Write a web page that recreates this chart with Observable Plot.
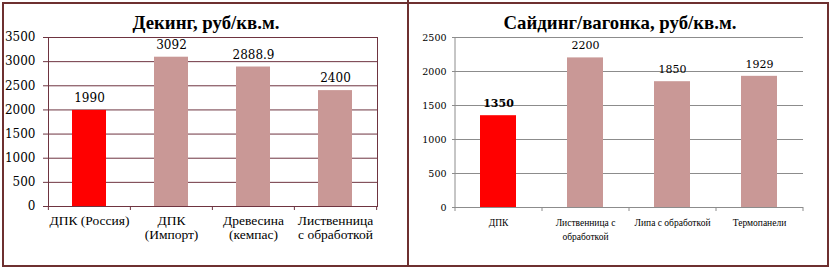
<!DOCTYPE html>
<html><head><meta charset="utf-8">
<script src="https://cdn.jsdelivr.net/npm/d3@7"></script>
<script src="https://cdn.jsdelivr.net/npm/@observablehq/plot@0.6"></script>
<style>
body{margin:0;background:#fff;}
#wrap{position:relative;width:833px;height:270px;overflow:hidden;background:#fff;}
.box{position:absolute;left:2px;top:2px;width:827px;height:265px;box-sizing:border-box;border:2px solid #6e3030;}
.div{position:absolute;left:407px;top:0;width:2px;height:267px;background:#6e3030;}
.title{position:absolute;width:400px;text-align:center;font-family:"Liberation Serif",serif;font-weight:bold;font-size:18.8px;color:#000;line-height:20px;}
.chart{position:absolute;top:0;}
#c1 g[aria-label="y-axis tick label"]{font-family:"DejaVu Serif",serif;font-size:12px;}
#c1 g[aria-label="x-axis tick label"]{font-family:"Liberation Serif",serif;font-size:13.5px;}
#c2 g[aria-label="y-axis tick label"]{font-family:"DejaVu Serif",serif;font-size:9.5px;}
#c2 g[aria-label="x-axis tick label"]{font-family:"Liberation Serif",serif;font-size:9.5px;}
</style>
</head><body>
<div id="wrap">
  <div class="box"></div>
  <div class="div"></div>
  <div class="title" id="t1" style="left:6px;top:13px;">Декинг, руб/кв.м.</div>
  <div class="title" id="t2" style="left:420px;top:13px;">Сайдинг/вагонка, руб/кв.м.</div>
  <div class="chart" id="c1" style="left:0px;"></div>
  <div class="chart" id="c2" style="left:408px;"></div>
</div>
<script>
// ---- Data ----
const deckCats = ["ДПК (Россия)", "ДПК\n(Импорт)", "Древесина\n(кемпас)", "Лиственница\nс обработкой"];
const deckValues = [1990, 3092, 2888.9, 2400];
const deckColors = ["#ff0000", "#c99896", "#c99896", "#c99896"];
const deckTicks = [0, 500, 1000, 1500, 2000, 2500, 3000, 3500];

const sidingCats = ["ДПК", "Лиственница с\nобработкой", "Липа с обработкой", "Термопанели"];
const sidingValues = [1350, 2200, 1850, 1929];
const sidingColors = ["#ff0000", "#c99896", "#c99896", "#c99896"];
const sidingTicks = [0, 500, 1000, 1500, 2000, 2500];

const deck = deckCats.map((c, i) => ({cat: c, value: deckValues[i], color: deckColors[i], label: String(deckValues[i])}));
const siding = sidingCats.map((c, i) => ({cat: c, value: sidingValues[i], color: sidingColors[i], label: String(sidingValues[i])}));

const brown = "#6e3440";
const gray = "#8c8c8c";
const numFont = "DejaVu Serif";
const fmt = d => String(d);

// ---- Left chart ----
{
  const W = 408, H = 266, mL = 48, mR = 31, mT = 37, mB = 60;
  const step = (W - mL - mR) / deckCats.length;
  const p = 0.585;
  const plot = Plot.plot({
    width: W, height: H,
    marginLeft: mL, marginRight: mR, marginTop: mT, marginBottom: mB,
    style: {background: "transparent", color: "#000", overflow: "visible"},
    x: {domain: deckCats, paddingInner: p, paddingOuter: p / 2, label: null},
    y: {domain: [0, 3500], label: null},
    color: {type: "identity"},
    marks: [
      Plot.gridY(deckTicks, {stroke: brown, strokeOpacity: 1, strokeWidth: 1}),
      Plot.barY(deck, {x: "cat", y: "value", fill: "color"}),
      Plot.frame({stroke: brown, strokeWidth: 1}),
      Plot.ruleX(deck, {x: "cat", y1: 0, y2: 0, dx: -step / 2, insetBottom: -4, stroke: brown}),
      Plot.ruleX(deck.slice(-1), {x: "cat", y1: 0, y2: 0, dx: step / 2, insetBottom: -4, stroke: brown}),
      Plot.axisY(deckTicks, {tickSize: 5, tickPadding: 8, stroke: brown, tickFormat: fmt, label: null}),
      Plot.axisX({tickSize: 0, tickPadding: 9, lineHeight: 1.0, label: null}),
      Plot.text(deck, {x: "cat", y: "value", text: "label", dy: -12, fontFamily: numFont, fontSize: 12})
    ]
  });
  document.getElementById("c1").appendChild(plot);
}

// ---- Right chart ----
{
  const W = 420, H = 266, mL = 47, mR = 25, mT = 37, mB = 59;
  const step = (W - mL - mR) / sidingCats.length;
  const p = 0.586;
  const plot = Plot.plot({
    width: W, height: H,
    marginLeft: mL, marginRight: mR, marginTop: mT, marginBottom: mB,
    style: {background: "transparent", color: "#000", overflow: "visible"},
    x: {domain: sidingCats, paddingInner: p, paddingOuter: p / 2, label: null},
    y: {domain: [0, 2500], label: null},
    color: {type: "identity"},
    marks: [
      Plot.gridY(sidingTicks, {stroke: gray, strokeOpacity: 1, strokeWidth: 1}),
      Plot.barY(siding, {x: "cat", y: "value", fill: "color"}),
      Plot.ruleX(siding.slice(0, 1), {x: "cat", y1: 0, y2: 2500, dx: -step / 2, stroke: gray}),
      Plot.ruleX(siding, {x: "cat", y1: 0, y2: 0, dx: -step / 2, insetBottom: -4, stroke: gray}),
      Plot.ruleX(siding.slice(-1), {x: "cat", y1: 0, y2: 0, dx: step / 2, insetBottom: -4, stroke: gray}),
      Plot.axisY(sidingTicks, {tickSize: 3, tickPadding: 6, stroke: gray, tickFormat: fmt, label: null}),
      Plot.axisX({tickSize: 0, tickPadding: 9, lineHeight: 1.45, label: null}),
      Plot.text(siding.slice(0, 1), {x: "cat", y: "value", text: "label", dy: -12, fontFamily: numFont, fontSize: 11, fontWeight: "bold"}),
      Plot.text(siding.slice(1), {x: "cat", y: "value", text: "label", dy: -12, fontFamily: numFont, fontSize: 11})
    ]
  });
  document.getElementById("c2").appendChild(plot);
}
</script>
</body></html>
